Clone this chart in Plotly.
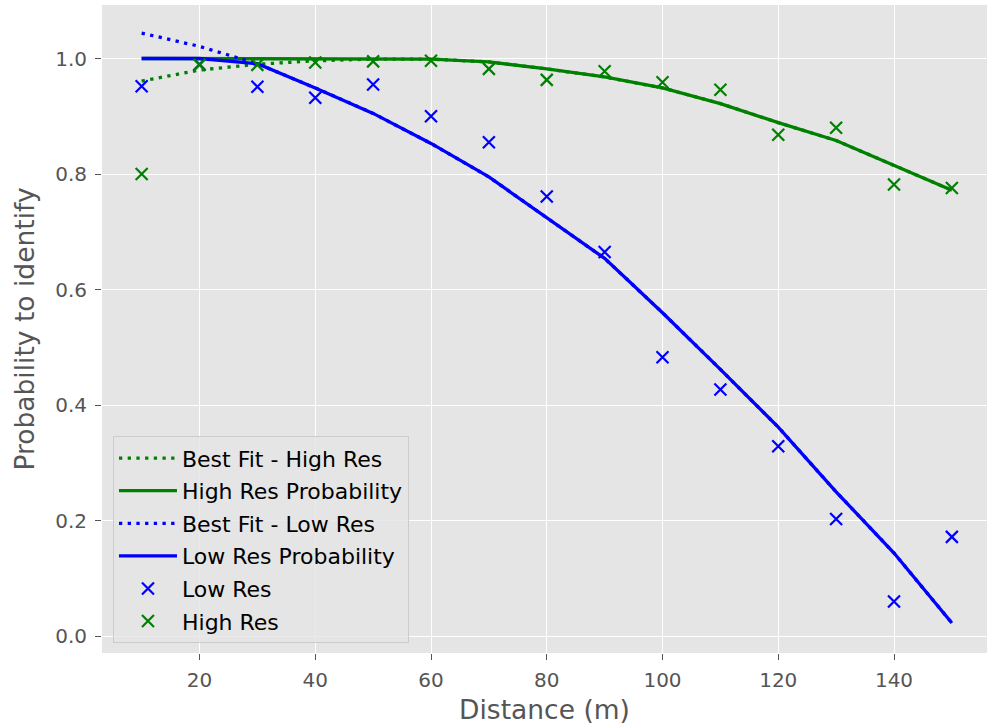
import plotly.graph_objects as go

distance = [10, 20, 30, 40, 50, 60, 70, 80, 90, 100, 110, 120, 130, 140, 150]

low_res = [0.952, 0.990, 0.951, 0.932, 0.955, 0.900, 0.855, 0.761, 0.665,
           0.483, 0.427, 0.329, 0.203, 0.060, 0.172]
high_res = [0.800, 0.989, 0.989, 0.993, 0.995, 0.996, 0.982, 0.963, 0.978,
            0.959, 0.946, 0.868, 0.880, 0.782, 0.776]

high_fit = [0.961, 0.980, 0.990, 0.996, 0.999, 0.999, 0.994, 0.982, 0.968,
            0.949, 0.922, 0.889, 0.858, 0.815, 0.772]
high_prob = [1.0, 1.0, 1.0, 1.0, 1.0, 0.999, 0.994, 0.982, 0.968,
             0.949, 0.922, 0.889, 0.858, 0.815, 0.772]
low_fit = [1.044, 1.021, 0.991, 0.949, 0.905, 0.853, 0.795, 0.725, 0.654,
           0.560, 0.462, 0.362, 0.250, 0.144, 0.023]
low_prob = [1.0, 1.0, 0.991, 0.949, 0.905, 0.853, 0.795, 0.725, 0.654,
            0.560, 0.462, 0.362, 0.250, 0.144, 0.023]

x_ticks = [20, 40, 60, 80, 100, 120, 140]
y_ticks = [0.0, 0.2, 0.4, 0.6, 0.8, 1.0]
y_tick_labels = ["0.0", "0.2", "0.4", "0.6", "0.8", "1.0"]

BLUE = "#0000FF"
GREEN = "#008000"
LW = 3.3
DOT = "3.3px,5.4px"

fig = go.Figure()
fig.add_trace(go.Scatter(x=distance, y=high_fit, mode="lines", name="Best Fit - High Res",
                         line=dict(color=GREEN, width=LW, dash=DOT), legendgroup="a"))
fig.add_trace(go.Scatter(x=distance, y=high_prob, mode="lines", name="High Res Probability",
                         line=dict(color=GREEN, width=LW), legendgroup="b"))
fig.add_trace(go.Scatter(x=distance, y=low_fit, mode="lines", name="Best Fit - Low Res",
                         line=dict(color=BLUE, width=LW, dash=DOT), legendgroup="c"))
fig.add_trace(go.Scatter(x=distance, y=low_prob, mode="lines", name="Low Res Probability",
                         line=dict(color=BLUE, width=LW), legendgroup="d"))
fig.add_trace(go.Scatter(x=distance, y=low_res, mode="markers", name="Low Res",
                         marker=dict(symbol="x-thin", size=12, color=BLUE,
                                     line=dict(color=BLUE, width=2.2)), legendgroup="e"))
fig.add_trace(go.Scatter(x=distance, y=high_res, mode="markers", name="High Res",
                         marker=dict(symbol="x-thin", size=12, color=GREEN,
                                     line=dict(color=GREEN, width=2.2)), legendgroup="f"))

FONT = "DejaVu Sans"
fig.update_layout(
    width=987, height=725,
    margin=dict(l=102, r=0, t=5, b=72),
    paper_bgcolor="white",
    plot_bgcolor="#E5E5E5",
    font=dict(family=FONT, color="#555555"),
    showlegend=True,
    legend=dict(
        x=0.0124, y=0.015, xanchor="left", yanchor="bottom",
        bgcolor="rgba(229,229,229,0.8)", bordercolor="#CCCCCC", borderwidth=1,
        font=dict(family=FONT, size=22, color="#000000"),
        traceorder="grouped", tracegroupgap=1,
        itemwidth=58,
    ),
    xaxis=dict(
        range=[3.15, 156.07],
        tickmode="array", tickvals=x_ticks,
        showgrid=True, gridcolor="white", gridwidth=1.2,
        zeroline=False, showline=False,
        ticks="outside", ticklen=6, tickwidth=1.3, tickcolor="#555555",
        tickfont=dict(family=FONT, size=20, color="#555555"),
        ticklabelstandoff=3,
        title=dict(text="Distance (m)", font=dict(family=FONT, size=26.5, color="#555555"),
                   standoff=12),
    ),
    yaxis=dict(
        range=[-0.029, 1.0926],
        tickmode="array", tickvals=y_ticks, ticktext=y_tick_labels,
        showgrid=True, gridcolor="white", gridwidth=1.2,
        zeroline=False, showline=False,
        ticks="outside", ticklen=6, tickwidth=1.3, tickcolor="#555555",
        tickfont=dict(family=FONT, size=20, color="#555555"),
        ticklabelstandoff=4,
        title=dict(text="Probability to identify", font=dict(family=FONT, size=26.5, color="#555555"),
                   standoff=12),
    ),
)

fig.write_html("out.html", config={"displayModeBar": False},
               post_script="document.body.style.margin='0px';")
